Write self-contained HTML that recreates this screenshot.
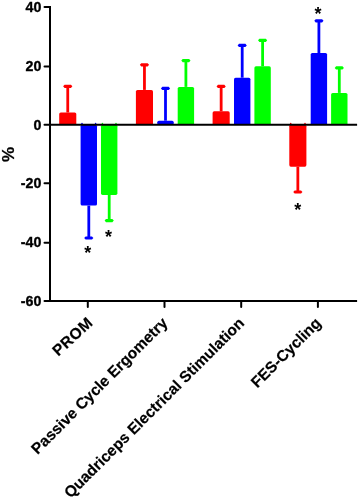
<!DOCTYPE html>
<html><head><meta charset="utf-8"><style>
html,body{margin:0;padding:0;background:#fff;}
svg{display:block}
.t{font-family:"Liberation Sans",Arial,sans-serif;font-weight:bold;font-size:15px;fill:#000;stroke:#000;stroke-width:0.35}
.c{font-family:"Liberation Sans",Arial,sans-serif;font-weight:bold;font-size:15.5px;fill:#000;stroke:#000;stroke-width:0.2}
.p{font-family:"Liberation Sans",Arial,sans-serif;font-weight:bold;font-size:17px;fill:#000;stroke:#000;stroke-width:0.25}
.s{font-family:"Liberation Sans",Arial,sans-serif;font-weight:bold;font-size:18px;fill:#000}
</style></head><body>
<svg width="358" height="498" viewBox="0 0 358 498">
<line x1="67.75" y1="112.50" x2="67.75" y2="86.35" stroke="#ff0000" stroke-width="2.8"/>
<polygon points="63.15,86.35 64.55,84.75 70.95,84.75 72.35,86.35 70.95,87.95 64.55,87.95" fill="#ff0000"/>
<rect x="59.20" y="112.50" width="17.10" height="12.25" rx="1.6" fill="#ff0000"/>
<line x1="88.80" y1="205.60" x2="88.80" y2="238.00" stroke="#0000ff" stroke-width="2.8"/>
<polygon points="84.20,238.00 85.60,236.40 92.00,236.40 93.40,238.00 92.00,239.60 85.60,239.60" fill="#0000ff"/>
<circle cx="82.00" cy="123.5" r="0.8" fill="#0000ff"/>
<circle cx="95.60" cy="123.5" r="0.8" fill="#0000ff"/>
<rect x="80.60" y="124.75" width="16.40" height="80.85" rx="1.6" fill="#0000ff"/>
<line x1="109.20" y1="194.90" x2="109.20" y2="220.60" stroke="#00ff00" stroke-width="2.8"/>
<polygon points="104.60,220.60 106.00,219.00 112.40,219.00 113.80,220.60 112.40,222.20 106.00,222.20" fill="#00ff00"/>
<circle cx="102.40" cy="123.5" r="0.8" fill="#00ff00"/>
<circle cx="116.00" cy="123.5" r="0.8" fill="#00ff00"/>
<rect x="101.00" y="124.75" width="16.40" height="70.15" rx="1.6" fill="#00ff00"/>
<line x1="144.45" y1="89.90" x2="144.45" y2="64.80" stroke="#ff0000" stroke-width="2.8"/>
<polygon points="139.85,64.80 141.25,63.20 147.65,63.20 149.05,64.80 147.65,66.40 141.25,66.40" fill="#ff0000"/>
<rect x="135.90" y="89.90" width="17.10" height="34.85" rx="1.6" fill="#ff0000"/>
<line x1="165.50" y1="120.70" x2="165.50" y2="88.40" stroke="#0000ff" stroke-width="2.8"/>
<polygon points="160.90,88.40 162.30,86.80 168.70,86.80 170.10,88.40 168.70,90.00 162.30,90.00" fill="#0000ff"/>
<rect x="157.30" y="120.70" width="16.40" height="4.05" rx="1.6" fill="#0000ff"/>
<line x1="185.90" y1="86.90" x2="185.90" y2="60.60" stroke="#00ff00" stroke-width="2.8"/>
<polygon points="181.30,60.60 182.70,59.00 189.10,59.00 190.50,60.60 189.10,62.20 182.70,62.20" fill="#00ff00"/>
<rect x="177.70" y="86.90" width="16.40" height="37.85" rx="1.6" fill="#00ff00"/>
<line x1="221.15" y1="111.30" x2="221.15" y2="86.40" stroke="#ff0000" stroke-width="2.8"/>
<polygon points="216.55,86.40 217.95,84.80 224.35,84.80 225.75,86.40 224.35,88.00 217.95,88.00" fill="#ff0000"/>
<rect x="212.60" y="111.30" width="17.10" height="13.45" rx="1.6" fill="#ff0000"/>
<line x1="242.20" y1="77.70" x2="242.20" y2="45.40" stroke="#0000ff" stroke-width="2.8"/>
<polygon points="237.60,45.40 239.00,43.80 245.40,43.80 246.80,45.40 245.40,47.00 239.00,47.00" fill="#0000ff"/>
<rect x="234.00" y="77.70" width="16.40" height="47.05" rx="1.6" fill="#0000ff"/>
<line x1="262.60" y1="66.30" x2="262.60" y2="40.30" stroke="#00ff00" stroke-width="2.8"/>
<polygon points="258.00,40.30 259.40,38.70 265.80,38.70 267.20,40.30 265.80,41.90 259.40,41.90" fill="#00ff00"/>
<rect x="254.40" y="66.30" width="16.40" height="58.45" rx="1.6" fill="#00ff00"/>
<line x1="297.85" y1="166.70" x2="297.85" y2="192.00" stroke="#ff0000" stroke-width="2.8"/>
<polygon points="293.25,192.00 294.65,190.40 301.05,190.40 302.45,192.00 301.05,193.60 294.65,193.60" fill="#ff0000"/>
<circle cx="290.70" cy="123.5" r="0.8" fill="#ff0000"/>
<circle cx="305.00" cy="123.5" r="0.8" fill="#ff0000"/>
<rect x="289.30" y="124.75" width="17.10" height="41.95" rx="1.6" fill="#ff0000"/>
<line x1="318.90" y1="53.00" x2="318.90" y2="20.80" stroke="#0000ff" stroke-width="2.8"/>
<polygon points="314.30,20.80 315.70,19.20 322.10,19.20 323.50,20.80 322.10,22.40 315.70,22.40" fill="#0000ff"/>
<rect x="310.70" y="53.00" width="16.40" height="71.75" rx="1.6" fill="#0000ff"/>
<line x1="339.30" y1="92.90" x2="339.30" y2="67.90" stroke="#00ff00" stroke-width="2.8"/>
<polygon points="334.70,67.90 336.10,66.30 342.50,66.30 343.90,67.90 342.50,69.50 336.10,69.50" fill="#00ff00"/>
<rect x="331.10" y="92.90" width="16.40" height="31.85" rx="1.6" fill="#00ff00"/>
<line x1="50" y1="5.9" x2="50" y2="302" stroke="#000" stroke-width="2"/>
<line x1="49" y1="124.75" x2="357.1" y2="124.75" stroke="#000" stroke-width="2"/>
<line x1="49" y1="301" x2="357.1" y2="301" stroke="#000" stroke-width="2"/>
<line x1="44.5" y1="6.90" x2="50" y2="6.90" stroke="#000" stroke-width="2" stroke-linecap="round"/>
<text x="0" y="0" text-anchor="end" class="t" transform="translate(41.4 11.67) scale(0.95 1)">40</text>
<line x1="44.5" y1="66.45" x2="50" y2="66.45" stroke="#000" stroke-width="2" stroke-linecap="round"/>
<text x="0" y="0" text-anchor="end" class="t" transform="translate(41.4 70.62) scale(0.95 1)">20</text>
<line x1="44.5" y1="124.75" x2="50" y2="124.75" stroke="#000" stroke-width="2" stroke-linecap="round"/>
<text x="0" y="0" text-anchor="end" class="t" transform="translate(41.4 129.77) scale(0.95 1)">0</text>
<line x1="44.5" y1="183.30" x2="50" y2="183.30" stroke="#000" stroke-width="2" stroke-linecap="round"/>
<text x="0" y="0" text-anchor="end" class="t" transform="translate(41.4 187.72) scale(0.95 1)">-20</text>
<line x1="44.5" y1="242.80" x2="50" y2="242.80" stroke="#000" stroke-width="2" stroke-linecap="round"/>
<text x="0" y="0" text-anchor="end" class="t" transform="translate(41.4 246.87) scale(0.95 1)">-40</text>
<line x1="44.5" y1="301.00" x2="50" y2="301.00" stroke="#000" stroke-width="2" stroke-linecap="round"/>
<text x="0" y="0" text-anchor="end" class="t" transform="translate(41.4 306.12) scale(0.95 1)">-60</text>
<line x1="87.80" y1="301" x2="87.80" y2="307" stroke="#000" stroke-width="2" stroke-linecap="round"/>
<line x1="164.50" y1="301" x2="164.50" y2="307" stroke="#000" stroke-width="2" stroke-linecap="round"/>
<line x1="241.20" y1="301" x2="241.20" y2="307" stroke="#000" stroke-width="2" stroke-linecap="round"/>
<line x1="317.90" y1="301" x2="317.90" y2="307" stroke="#000" stroke-width="2" stroke-linecap="round"/>
<text x="94.00" y="324.00" text-anchor="end" class="c" letter-spacing="0.5" transform="rotate(-42.5 94.00 324.00)">PROM</text>
<text x="168.50" y="324.00" text-anchor="end" class="c" transform="rotate(-45 168.50 324.00)">Passive Cycle Ergometry</text>
<text x="245.20" y="324.00" text-anchor="end" class="c" transform="rotate(-45 245.20 324.00)">Quadriceps Electrical Stimulation</text>
<text x="321.90" y="324.00" text-anchor="end" class="c" transform="rotate(-45 321.90 324.00)">FES-Cycling</text>
<text x="0" y="0" text-anchor="middle" class="p" transform="translate(14 154.5) rotate(-90)">%</text>
<text x="87.8" y="258.53" text-anchor="middle" class="s">*</text>
<text x="108.5" y="243.13" text-anchor="middle" class="s">*</text>
<text x="318.0" y="19.83" text-anchor="middle" class="s">*</text>
<text x="297.8" y="215.68" text-anchor="middle" class="s">*</text>
</svg>
</body></html>
